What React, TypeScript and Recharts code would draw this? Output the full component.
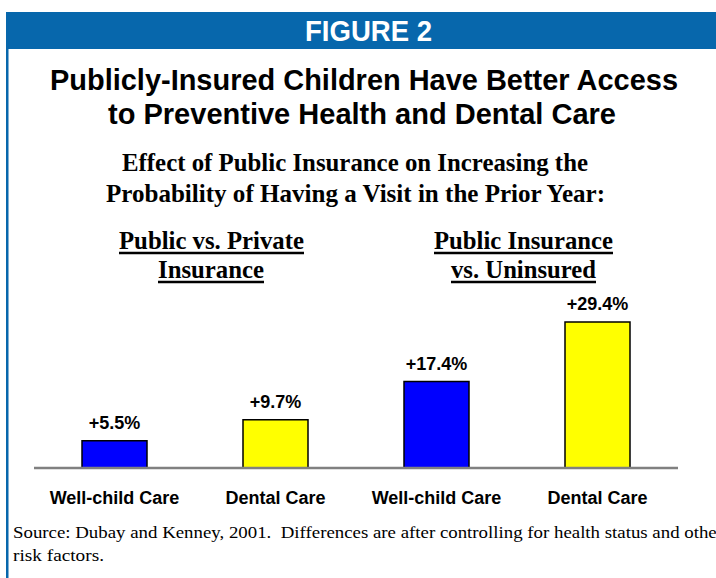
import React from "react";
import { BarChart, Bar, XAxis, YAxis, Cell, LabelList } from "recharts";

const categoryKeys = ["pp-well", "pp-dental", "pu-well", "pu-dental"];
const categoryLabels = ["Well-child Care", "Dental Care", "Well-child Care", "Dental Care"];
const effectValues = [5.5, 9.7, 17.4, 29.4];
const barColors = ["#0000FF", "#FFFF00", "#0000FF", "#FFFF00"];

const data = categoryKeys.map((k, i) => ({
  key: k,
  label: categoryLabels[i],
  value: effectValues[i],
}));

const SANS = "'Liberation Sans', Arial, Helvetica, sans-serif";
const SERIF = "'Liberation Serif', 'Times New Roman', Times, serif";
const HEADER_BLUE = "#0767AC";

function T(props: any) {
  const { x, y, len, size, weight, family, anchor = "middle", fill = "#000", children } = props;
  return (
    <text
      x={x}
      y={y}
      fontSize={size}
      fontWeight={weight}
      fontFamily={family}
      textAnchor={anchor}
      fill={fill}
      textLength={len}
      lengthAdjust={len ? "spacingAndGlyphs" : undefined}
    >
      {children}
    </text>
  );
}

export default function App() {
  return (
    <div
      style={{
        position: "absolute",
        left: 0,
        top: 0,
        width: 716,
        height: 578,
        background: "#fff",
        overflow: "hidden",
      }}
    >
      <div style={{ position: "absolute", left: 0, top: 0 }}>
        <BarChart
          width={716}
          height={578}
          data={data}
          margin={{ top: 319, right: 38, bottom: 80, left: 34 }}
          barSize={65}
        >
          <YAxis hide domain={[0, 30]} />
          <XAxis
            dataKey="key"
            height={30}
            tickFormatter={(v: string) => categoryLabels[categoryKeys.indexOf(v)]}
            axisLine={{ stroke: "#808080", strokeWidth: 2.5 }}
            tickLine={false}
            tickSize={0}
            tickMargin={23}
            interval={0}
            tick={{ fill: "#000", fontSize: 18, fontWeight: "bold", fontFamily: SANS }}
          />
          <Bar dataKey="value" stroke="#000" strokeWidth={1.5} isAnimationActive={false}>
            {data.map((d, i) => (
              <Cell key={d.key} fill={barColors[i]} />
            ))}
            <LabelList
              dataKey="value"
              position="top"
              offset={12}
              formatter={(v: any) => `+${Number(v).toFixed(1)}%`}
              fill="#000"
              fontSize={18}
              fontWeight="bold"
              fontFamily={SANS}
            />
          </Bar>
        </BarChart>
      </div>
      <svg
        width={716}
        height={578}
        style={{ position: "absolute", left: 0, top: 0, pointerEvents: "none" }}
      >
        <rect x={6} y={12} width={710} height={37} fill={HEADER_BLUE} />
        <rect x={6} y={12} width={2.5} height={566} fill={HEADER_BLUE} />
        <T x={368.5} y={41} len={127} size={29} weight="bold" family={SANS} fill="#fff">FIGURE 2</T>

        <T x={364} y={90} len={628} size={29} weight="bold" family={SANS}>
          Publicly-Insured Children Have Better Access
        </T>
        <T x={362} y={124} len={508} size={29} weight="bold" family={SANS}>
          to Preventive Health and Dental Care
        </T>

        <T x={355} y={171} len={466} size={25} weight="bold" family={SERIF}>
          Effect of Public Insurance on Increasing the
        </T>
        <T x={355.5} y={202} len={499} size={25} weight="bold" family={SERIF}>
          Probability of Having a Visit in the Prior Year:
        </T>

        <T x={211.5} y={249} len={185} size={26} weight="bold" family={SERIF}>Public vs. Private</T>
        <line x1={119} x2={304} y1={253} y2={253} stroke="#000" strokeWidth={2.5} />
        <T x={211} y={278} len={106} size={26} weight="bold" family={SERIF}>Insurance</T>
        <line x1={158} x2={264} y1={282} y2={282} stroke="#000" strokeWidth={2.5} />

        <T x={523.5} y={249} len={179} size={26} weight="bold" family={SERIF}>Public Insurance</T>
        <line x1={434} x2={613} y1={253} y2={253} stroke="#000" strokeWidth={2.5} />
        <T x={523.5} y={278} len={145} size={26} weight="bold" family={SERIF}>vs. Uninsured</T>
        <line x1={451} x2={596} y1={282} y2={282} stroke="#000" strokeWidth={2.5} />

        <T x={13} y={538} len={710} size={17} family={SERIF} anchor="start">
          Source: Dubay and Kenney, 2001.{"\u00a0 "}Differences are after controlling for health status and other
        </T>
        <T x={13} y={561} len={91} size={17} family={SERIF} anchor="start">
          risk factors.
        </T>
      </svg>
    </div>
  );
}
